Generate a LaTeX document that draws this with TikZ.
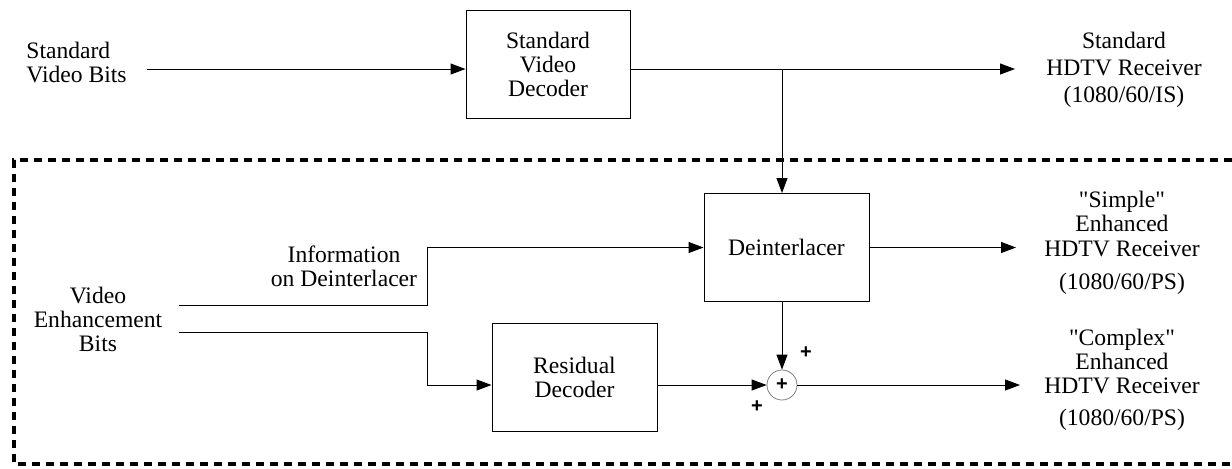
\documentclass[tikz,border=0pt]{standalone}
\usepackage{fontspec}
\setmainfont{Liberation Serif}[Ligatures=TeXOff]
\setsansfont{Liberation Sans}
\usetikzlibrary{arrows.meta,calc}
\begin{document}
\begin{tikzpicture}[x=0.5pt,y=-0.5pt,
  every node/.style={font=\fontsize{11.8}{12}\selectfont, inner sep=0pt},
  blk/.style={draw, line width=0.5pt, minimum width=82.5pt, minimum height=54pt, align=center},
  lbl/.style={align=center},
  wire/.style={line width=0.5pt},
  arr/.style={wire, -{Triangle[length=7.5pt,width=5.5pt]}},
  frame/.style={line width=1.6pt, dash pattern=on 4pt off 3pt},
  sign/.style={font=\sffamily\bfseries\fontsize{10}{10}\selectfont}
]
\useasboundingbox (0,0) rectangle (1232,468);

% enhancement layer region
\draw[frame] (1232,160) -- (14,160) -- (14,464) -- (1232,464);

% processing blocks
\node[blk, minimum width=82pt] (svd) at (548,64) {Standard\\Video\\Decoder};
\node[blk] (deint) at (786.5,247.5) {Deinterlacer};
\node[blk] (resid) at (574.5,377) {Residual\\Decoder};
\node[draw=gray, circle, minimum size=15pt, line width=0.4pt, sign] (sum) at (782,385) {+};

% inputs
\node[lbl, align=left, anchor=west] (svbits) at (26,62) {Standard\\Video Bits};
\node[lbl] (veb) at (98,319) {Video\\Enhancement\\Bits};
\node[lbl] (info) at (344,266) {Information\\on Deinterlacer};

% receivers
\node[lbl] (rx0) at (1124,70) {Standard\\[1.5pt]HDTV Receiver\\[1.5pt](1080/60/IS)};
\node[lbl] (rx1) at (1122,243) {"Simple"\\Enhanced\\[0.5pt]HDTV Receiver\\[4.5pt](1080/60/PS)};
\node[lbl] (rx2) at (1122,380) {"Complex"\\Enhanced\\HDTV Receiver\\[4pt](1080/60/PS)};

% summation signs
\node[sign] (p1) at (806,353) {+};
\node[sign] (p2) at (757,407) {+};

% routing points
\coordinate (inA) at (147,69);
\coordinate (j1) at (782,69);
\coordinate (vebA) at (179,305);
\coordinate (vebB) at (179,332);
\coordinate (k1) at (427,305);
\coordinate (k2) at (427,332);
\coordinate (out0) at (1015,69);
\coordinate (out1) at (1016,247);
\coordinate (out2) at (1020,385);

% connections
\draw[arr] (inA) -- (inA -| svd.west);
\draw[arr] (svd.east |- inA) -- (out0);
\draw[arr] (j1) -- (j1 |- deint.north);
\draw[arr] (vebA) -- (k1) |- (deint.west);
\draw[arr] (vebB) -- (k2) |- (resid.west |- sum);
\draw[arr] (resid.east |- sum) -- (sum.west);
\draw[arr] (deint.south -| sum) -- (sum.north);
\draw[arr] (deint.east) -- (out1 |- deint.east);
\draw[arr] (sum.east) -- (out2 |- sum.east);
\end{tikzpicture}
\end{document}
